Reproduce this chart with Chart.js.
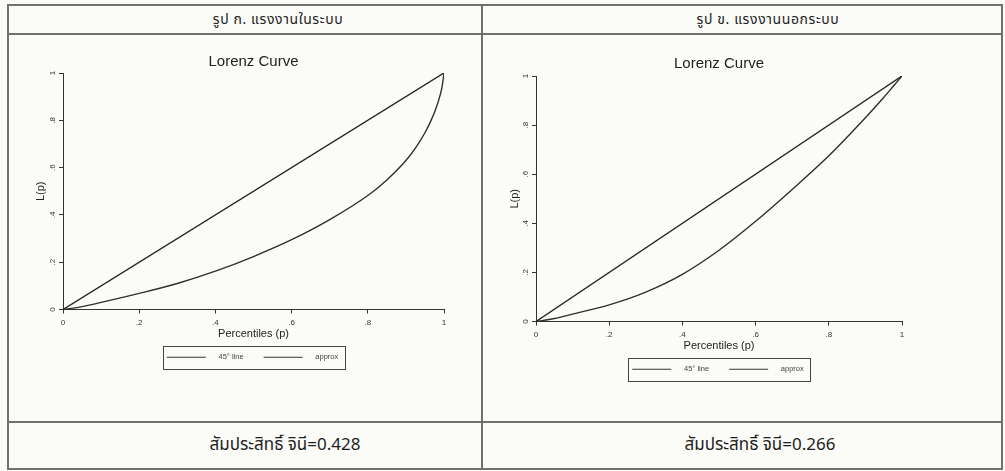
<!DOCTYPE html>
<html>
<head>
<meta charset="utf-8">
<script src="https://cdn.jsdelivr.net/npm/chart.js@4.4.1/dist/chart.umd.min.js"></script>
<style>
  html, body { margin: 0; padding: 0; background: #fbfbf7; }
  #page { position: relative; width: 1005px; height: 471px; overflow: hidden;
          font-family: "Noto Sans Thai", "Noto Sans Thai UI", "Loma", "Garuda", "Tahoma", "Noto Sans", sans-serif; color: #1e1e1e; }
  .ln { position: absolute; background: #707070; }
  .cell { position: absolute; text-align: center; white-space: nowrap; }
  .hd { top: 6px; width: 300px; height: 27px; line-height: 27px; font-size: 14px; letter-spacing: 0.6px; color: #222; }
  .ft { top: 423px; width: 300px; height: 45px; line-height: 45px; font-size: 17px; }
  canvas { position: absolute; }
</style>
</head>
<body>
<div id="page">
  <!-- table frame -->
  <div class="ln" style="left:7px;top:4px;width:996px;height:2px"></div>
  <div class="ln" style="left:7px;top:33px;width:996px;height:2px"></div>
  <div class="ln" style="left:7px;top:421px;width:996px;height:2px"></div>
  <div class="ln" style="left:7px;top:468px;width:996px;height:2px"></div>
  <div class="ln" style="left:7px;top:4px;width:2px;height:466px"></div>
  <div class="ln" style="left:481px;top:4px;width:2px;height:466px"></div>
  <div class="ln" style="left:1001px;top:4px;width:2px;height:466px"></div>

  <div class="cell hd" id="h0" style="left:128px"></div>
  <div class="cell hd" id="h1" style="left:618px"></div>
  <div class="cell ft" id="g0" style="left:135px"></div>
  <div class="cell ft" id="g1" style="left:610px"></div>

  <canvas id="c0" width="472" height="385" style="left:9px;top:36px"></canvas>
  <canvas id="c1" width="517" height="385" style="left:484px;top:36px"></canvas>
</div>
<script>
const panelTitles = ["รูป ก. แรงงานในระบบ", "รูป ข. แรงงานนอกระบบ"];
const giniLabel = "สัมประสิทธิ์ จินี=";
const giniValues = ["0.428", "0.266"];

const legendLabels = ["45° line", "approx"];
const tickLabels = ["0", ".2", ".4", ".6", ".8", "1"];

// percentiles (p) and cumulative share L(p)
const diagX = [0, 1];
const diagY = [0, 1];
const formalP = [0, 0.05, 0.1, 0.2, 0.3, 0.4, 0.5, 0.6, 0.7, 0.8, 0.85, 0.9, 0.925, 0.95, 0.965, 0.98, 0.99, 0.995, 1];
const formalL = [0, 0.012, 0.03, 0.068, 0.11, 0.162, 0.224, 0.295, 0.38, 0.482, 0.548, 0.63, 0.6825, 0.7475, 0.7955, 0.8555, 0.9075, 0.9425, 1];
const informalP = [0, 0.05, 0.1, 0.2, 0.3, 0.4, 0.5, 0.6, 0.7, 0.8, 0.9, 0.95, 0.975, 1];
const informalL = [0, 0.012, 0.03, 0.068, 0.12, 0.192, 0.29, 0.408, 0.538, 0.675, 0.83, 0.9125, 0.956, 1];

document.getElementById("h0").textContent = panelTitles[0];
document.getElementById("h1").textContent = panelTitles[1];
document.getElementById("g0").textContent = giniLabel + giniValues[0];
document.getElementById("g1").textContent = giniLabel + giniValues[1];

// legend sample: short line with a gap before the text
function lineSwatch() {
  const c = document.createElement("canvas");
  c.width = 60; c.height = 3;
  const g = c.getContext("2d");
  g.strokeStyle = "#333";
  g.lineWidth = 1;
  g.beginPath(); g.moveTo(12, 1.5); g.lineTo(51, 1.5); g.stroke();
  return c;
}
const swatch = lineSwatch();

// box around the legend items, like the Stata legend
const legendBox = {
  id: "legendBox",
  afterLayout(chart) {
    // the swatch's leading gap pushes the row right; pull it back to the centre
    chart.legend.left -= 7;
    chart.legend.right -= 7;
  },
  afterDraw(chart) {
    const hb = chart.legend.legendHitBoxes;
    if (!hb || !hb.length) return;
    const last = hb[hb.length - 1];
    const x1 = hb[0].left + 12 - 4, x2 = last.left + last.width + 6;
    const y1 = hb[0].top - 7.5, y2 = hb[0].top + hb[0].height + 7.5;
    const ctx = chart.ctx;
    ctx.save();
    ctx.strokeStyle = "#444";
    ctx.lineWidth = 1;
    ctx.strokeRect(Math.round(x1) + 0.5, Math.round(y1) + 0.5, Math.round(x2 - x1), Math.round(y2 - y1));
    ctx.restore();
  }
};

const fontFam = "'Liberation Sans', Arial, sans-serif";

function makeChart(id, px, curve, pad, titlePad, yWidth) {
  return new Chart(document.getElementById(id), {
    type: "line",
    data: {
      datasets: [
        {
          label: legendLabels[0],
          data: diagX.map((x, i) => ({ x: x, y: diagY[i] })),
          borderColor: "#222",
          borderWidth: 1.4,
          pointRadius: 0
        },
        {
          label: legendLabels[1],
          data: px.map((p, i) => ({ x: p, y: curve[i] })),
          borderColor: "#332d2d",
          borderWidth: 1.4,
          pointRadius: 0,
          cubicInterpolationMode: "monotone"
        }
      ]
    },
    options: {
      responsive: false,
      animation: false,
      layout: { padding: pad },
      plugins: {
        title: {
          display: true, text: "Lorenz Curve", fullSize: false,
          color: "#222", font: { size: 15, family: fontFam, weight: "normal" },
          padding: titlePad
        },
        legend: {
          position: "bottom", fullSize: false,
          labels: {
            usePointStyle: true, pointStyle: swatch, pointStyleWidth: 60,
            color: "#444", font: { size: 7.5, family: fontFam }, padding: 8
          }
        },
        tooltip: { enabled: false }
      },
      scales: {
        x: {
          type: "linear", min: 0, max: 1,
          afterFit: s => { s.height = 36; },
          ticks: {
            stepSize: 0.2, maxRotation: 0, padding: 4, color: "#333",
            font: { size: 8, family: fontFam },
            callback: v => tickLabels[Math.round(v * 5)]
          },
          grid: { drawOnChartArea: false, tickLength: 4, color: "#333" },
          border: { color: "#333", width: 1 },
          title: { display: true, text: "Percentiles (p)", color: "#222",
                   font: { size: 11, family: fontFam }, padding: { top: 0, bottom: 5 } }
        },
        y: {
          min: 0, max: 1,
          afterFit: s => { s.width = yWidth; },
          ticks: {
            stepSize: 0.2, minRotation: 90, maxRotation: 90, crossAlign: "center",
            padding: 2.5, color: "#333", font: { size: 8, family: fontFam },
            callback: v => tickLabels[Math.round(v * 5)]
          },
          grid: { drawOnChartArea: false, tickLength: 4, color: "#333" },
          border: { color: "#333", width: 1 },
          title: { display: true, text: "L(p)", color: "#222",
                   font: { size: 11, family: fontFam }, padding: 0 }
        }
      }
    },
    plugins: [legendBox]
  });
}

makeChart("c0", formalP, formalL, { left: 25, right: 37, top: 0, bottom: 50 }, { top: 17, bottom: 2 }, 29);
makeChart("c1", informalP, informalL, { left: 24, right: 99, top: 0, bottom: 38 }, { top: 19, bottom: 3 }, 28);
</script>
</body>
</html>
